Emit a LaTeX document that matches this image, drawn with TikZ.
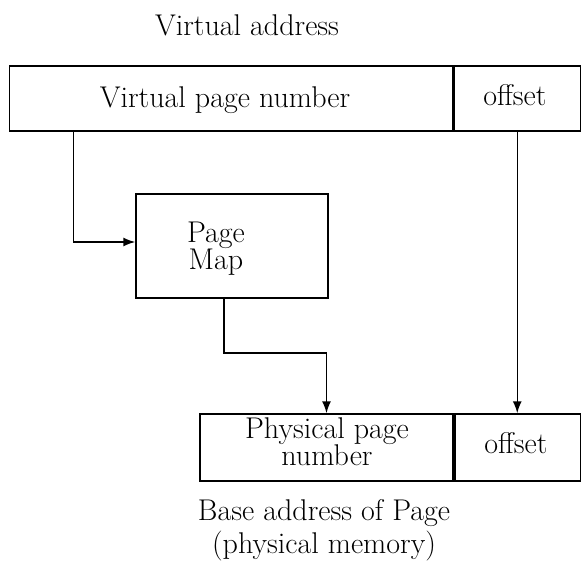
\documentclass[tikz,border=0pt]{standalone}
\usetikzlibrary{arrows.meta}
\begin{document}
\begin{tikzpicture}[x=1pt,y=-1pt,
  field/.style={draw, line width=1.5pt, rectangle, inner sep=0pt},
  lbl/.style={font=\fontsize{30}{33}\selectfont, inner sep=0pt, anchor=base},
  block/.style={font=\fontsize{30}{27.5}\selectfont, inner sep=0pt, align=center, anchor=north},
  link/.style={line width=1.5pt, -{Latex[length=12pt,width=9pt]}}]
\useasboundingbox (0,0) rectangle (582,563);

% virtual address: page number field and offset field
\node[field, minimum width=443pt, minimum height=65pt] (vpn) at (231,98.5) {};
\node[field, minimum width=126.5pt, minimum height=65pt] (offT) at (517.25,98.5) {};

% page map
\node[field, minimum width=192pt, minimum height=104pt] (pm) at (232,246) {};

% physical address: page number field and offset field
\node[field, minimum width=253pt, minimum height=67pt] (ppn) at (326.5,447.5) {};
\node[field, minimum width=125.5pt, minimum height=67pt] (offB) at (517.75,447.5) {};

% labels
\node[lbl] (tVA)   at (247,35)  {Virtual address};
\node[lbl] (tVPN)  at (225,107) {Virtual page number};
\node[lbl] (tOffT) at (515,105) {offset};
\node[block] (tPM)  at (216,221.5) {Page\\Map};
\node[block] (tPPN) at (327,417.2) {Physical page\\number};
\node[lbl] (tOffB) at (516,453) {offset};
\node[block, font=\fontsize{30}{33}\selectfont] (tBase) at (324,499.5) {Base address of Page\\(physical memory)};

% connectors
\draw[link] ([xshift=64.5pt]vpn.south west) |- ([yshift=4pt]pm.west);
\draw[link] ([xshift=-8pt]pm.south) -- ++(0,54) -| (ppn.north);
\draw[link] (offT.south) -- (offT.south |- offB.north);
\end{tikzpicture}
\end{document}
